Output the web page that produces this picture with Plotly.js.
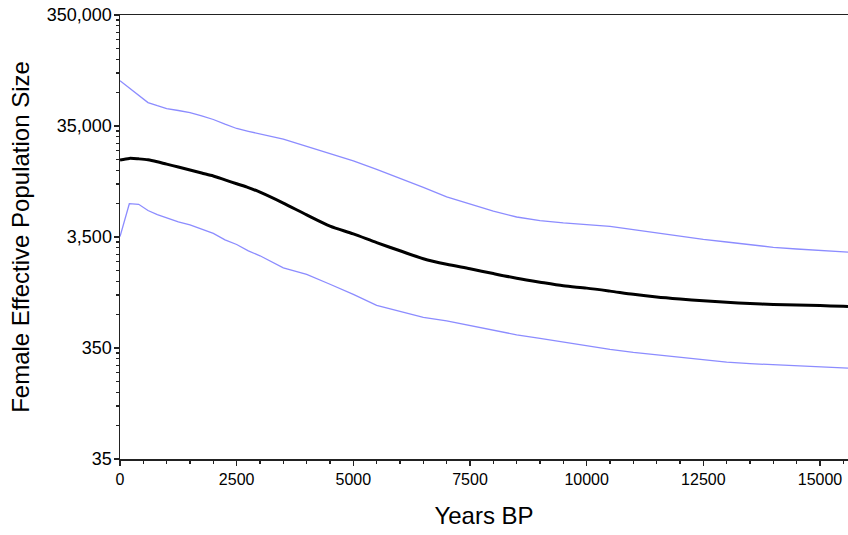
<!DOCTYPE html>
<html>
<head>
<meta charset="utf-8">
<script src="https://cdn.plot.ly/plotly-3.0.1.min.js"></script>
<style>html,body{margin:0;padding:0;background:#fff;}#chart{width:848px;height:535px;}</style>
</head>
<body>
<div id="chart"></div>
<script>
// Years BP
var years = [0, 200, 400, 600, 800, 1000, 1250, 1500, 1750, 2000, 2250, 2500, 2750, 3000, 3500, 4000, 4500, 5000, 5500, 6000, 6500, 7000, 7500, 8000, 8500, 9000, 9500, 10000, 10500, 11000, 11500, 12000, 12500, 13000, 13500, 14000, 14500, 15000, 15500, 15600];
// Median female effective population size
var median = [17300, 17880, 17700, 17370, 16670, 15860, 14940, 14040, 13190, 12420, 11450, 10560, 9765, 8860, 7067, 5534, 4388, 3732, 3116, 2629, 2232, 1988, 1811, 1639, 1490, 1372, 1271, 1212, 1139, 1065, 1007, 966, 933, 903, 879, 864, 853, 843, 831, 827];
// Upper 95% HPD
var upper = [89500, 76760, 66270, 56840, 53300, 50300, 48270, 46200, 43150, 40050, 36330, 33230, 31360, 29710, 26620, 22890, 19710, 16950, 14240, 11860, 9800, 8036, 6880, 5975, 5300, 4917, 4687, 4516, 4369, 4071, 3794, 3573, 3330, 3156, 2990, 2827, 2729, 2640, 2571, 2555];
// Lower 95% HPD
var lower = [3529, 6980, 6895, 6062, 5569, 5222, 4785, 4508, 4148, 3770, 3303, 2996, 2625, 2370, 1845, 1609, 1314, 1065, 846, 746, 660, 613, 556, 507, 460, 428, 396, 365, 340, 319, 304, 286, 272, 261, 253, 248, 242, 237, 232, 231];

var yTickVals = [35, 350, 3500, 35000, 350000];
var yTickText = ["35", "350", "3,500", "35,000", "350,000"];
var xTickVals = [0, 2500, 5000, 7500, 10000, 12500, 15000];
var xTickText = ["0", "2500", "5000", "7500", "10000", "12500", "15000"];

var minorY = [];
for (var d = 0; d < 4; d++) {
  for (var k = 2; k <= 9; k++) minorY.push(35 * k * Math.pow(10, d));
}

var blue = 'rgb(140,140,255)';
var traces = [
  {x: years, y: upper, type: 'scatter', mode: 'lines', line: {color: blue, width: 1.3}, hoverinfo: 'skip'},
  {x: years, y: lower, type: 'scatter', mode: 'lines', line: {color: blue, width: 1.3}, hoverinfo: 'skip'},
  {x: years, y: median, type: 'scatter', mode: 'lines', line: {color: '#000', width: 3, shape: 'spline', smoothing: 0.8}, hoverinfo: 'skip'}
];

var fam = 'Liberation Sans, Arial, sans-serif';
var layout = {
  width: 848, height: 535,
  margin: {l: 120, r: 0, t: 15, b: 76},
  paper_bgcolor: '#fff', plot_bgcolor: '#fff',
  showlegend: false,
  font: {family: fam, size: 16, color: '#000'},
  xaxis: {
    range: [0, 15600], tickmode: 'array', tickvals: xTickVals, ticktext: xTickText,
    ticks: 'outside', ticklen: 5, tickwidth: 1.3, tickcolor: '#222',
    showline: true, linecolor: '#222', linewidth: 1.5, mirror: true,
    showgrid: false, zeroline: false,
    minor: {tickmode: 'linear', dtick: 500, tick0: 0, ticks: 'outside', ticklen: 3, tickwidth: 1.2, tickcolor: '#222'},
    title: {text: 'Years BP', font: {family: fam, size: 24, color: '#000'}, standoff: 20},
    tickfont: {family: fam, size: 16, color: '#000'}
  },
  yaxis: {
    type: 'log', range: [Math.log10(35), Math.log10(350000)],
    tickmode: 'array', tickvals: yTickVals, ticktext: yTickText,
    ticks: 'outside', ticklen: 5, tickwidth: 1.3, tickcolor: '#222',
    ticklabelstandoff: -2,
    showline: true, linecolor: '#222', linewidth: 1.5,
    showgrid: false, zeroline: false,
    minor: {tickmode: 'array', tickvals: minorY, ticks: 'outside', ticklen: 3, tickwidth: 1.2, tickcolor: '#222', showgrid: false},
    title: {text: 'Female Effective Population Size', font: {family: fam, size: 24, color: '#000'}, standoff: 10},
    tickfont: {family: fam, size: 18, color: '#000'}
  }
};

Plotly.newPlot('chart', traces, layout, {staticPlot: true, displayModeBar: false});
</script>
</body>
</html>
